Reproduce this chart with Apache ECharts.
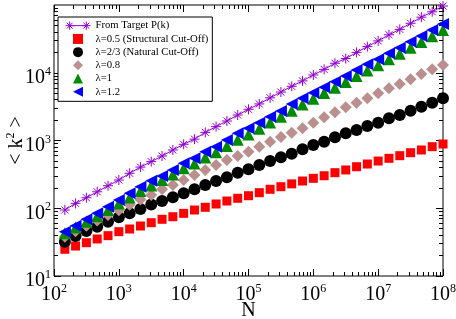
<!DOCTYPE html>
<html><head><meta charset="utf-8">
<script src="https://cdn.jsdelivr.net/npm/echarts@6/dist/echarts.min.js"></script>
<style>html,body{margin:0;padding:0;background:#fff}#c{width:456px;height:319px}</style>
</head><body><div id="c"></div>
<script>
// System size N
const sizeN = [147, 215, 316, 464, 681, 1000, 1468, 2154, 3162, 4642, 6813, 10000,
  14678, 21544, 31623, 46416, 68129, 100000, 146780, 215440, 316230, 464160, 681290, 1000000,
  1467800, 2154400, 3162300, 4641600, 6812900, 10000000, 14678000, 21544000, 31623000, 46416000, 68129000, 100000000];
// <k^2> values
const targetPk = [94.2, 118, 143, 175, 215, 261, 328, 405, 488, 590, 724, 879, 1047, 1318, 1600, 1941, 2377, 2884,
  3467, 4266, 5188, 6310, 7586, 9268, 11220, 13800, 16220, 19950, 24320, 29510, 36310, 43650, 53700, 66070, 79430, 96600];
const lambda05 = [24.8, 27.7, 31.0, 35.2, 39.4, 45.1, 49.4, 54.7, 61.2, 68.7, 75.0, 84.1, 94.2, 103.3, 115.6, 127.9, 140.3, 153.1,
  169.8, 190.5, 208.0, 229.1, 252.4, 276.7, 302.0, 335.0, 367.3, 410.2, 449.8, 497.7, 545.8, 597.0, 660.7, 724.4, 811.0, 887.2];
const lambda23 = [32.1, 38.9, 46.1, 53.5, 63.1, 73.5, 84.1, 97.7, 113.5, 127.9, 144.9, 166.0, 190.5, 220.3, 252.4, 286.4, 335.0, 375.8,
  434.5, 497.7, 564.9, 638.3, 741.3, 859.0, 961.6, 1114, 1276, 1429, 1637, 1832, 2128, 2377, 2754, 3155, 3614, 4198];
const lambda08 = [38.0, 45.7, 55.0, 66.1, 79.4, 93.3, 112.2, 134.9, 157.0, 190.5, 220.3, 261.2, 309.0, 367.3, 434.5, 515.2, 590.2, 683.9,
  811.0, 961.6, 1122, 1303, 1514, 1832, 2198, 2606, 3090, 3614, 4198, 4977, 5888, 6823, 7998, 9594, 11220, 13002];
const lambda10 = [42.7, 51.9, 63.1, 75.9, 94.4, 117.5, 144.5, 179.9, 216.3, 261, 316, 389, 457, 562, 668, 830, 1023, 1230,
  1496, 1841, 2244, 2754, 3388, 4121, 5012, 6026, 7328, 8954, 10839, 12882, 15849, 19055, 23442, 28510, 34674, 42756];
const lambda12 = [45.1, 55.2, 68.7, 84.1, 105.4, 132.4, 166, 208, 254, 299, 367, 460, 546, 684, 811, 1016, 1276, 1514,
  1832, 2244, 2723, 3443, 4198, 5082, 6095, 7379, 8954, 10965, 13335, 15776, 19364, 23442, 28708, 34834, 42756, 52481];

const seriesNames = ['From Target P(k)', 'λ=0.5 (Structural Cut-Off)', 'λ=2/3 (Natural Cut-Off)', 'λ=0.8', 'λ=1', 'λ=1.2'];
const xTicks = [1e2, 1e3, 1e4, 1e5, 1e6, 1e7, 1e8];
const yTicks = [1e1, 1e2, 1e3, 1e4];
const minorMult = [2, 3, 4, 5, 6, 7, 8, 9];

function minorTicks(decades) {
  const out = [];
  decades.forEach(d => minorMult.forEach(m => out.push(m * d)));
  return out;
}
const xMinor = minorTicks([1e2, 1e3, 1e4, 1e5, 1e6, 1e7]);
const yMinor = minorTicks([1e1, 1e2, 1e3, 1e4]);

const FONT = 'Liberation Serif';
const supRich = {
  b: { fontFamily: FONT, fontSize: 20, lineHeight: 22, verticalAlign: 'bottom', color: '#000' },
  s: { fontFamily: FONT, fontSize: 12, lineHeight: 12, verticalAlign: 'top', color: '#000' }
};
const powFmt = v => '{b|10}{s|' + Math.round(Math.log10(v)) + '}';

function axis(dim, gridIndex, position, ticks, len, labels) {
  const a = {
    type: 'log', logBase: 10, gridIndex, position,
    min: dim === 'x' ? 1e2 : 1e1, max: dim === 'x' ? 1e8 : 1e5,
    axisLine: { show: false }, splitLine: { show: false },
    axisTick: { show: true, inside: true, length: len, customValues: ticks, lineStyle: { color: '#000', width: 1 } },
    axisLabel: { show: false },
    minorTick: { show: false },
    nameMoveOverlap: false
  };
  if (labels) {
    a.axisLabel = { show: true, customValues: ticks, formatter: powFmt, rich: supRich,
      fontFamily: FONT, fontSize: 20, color: '#000', margin: 3, lineHeight: 30,
      padding: dim === 'x' ? [4, 0, 0, 0] : [8, 0, 0, 0] };
  }
  return a;
}

const gridRect = { left: 54, right: 13, top: 5, bottom: 43, containLabel: false, outerBoundsMode: 'none' };
const xAxes = [
  axis('x', 0, 'bottom', xTicks, 7, true),
  axis('x', 0, 'top', xTicks, 7, false),
  axis('x', 1, 'bottom', xMinor, 4, false),
  axis('x', 1, 'top', xMinor, 4, false)
];
xAxes[0].name = 'N';
xAxes[0].nameLocation = 'middle';
xAxes[0].nameGap = 25;
xAxes[0].nameTextStyle = { fontFamily: FONT, fontSize: 20, color: '#000' };
const yAxes = [
  axis('y', 0, 'left', yTicks, 7, true),
  axis('y', 0, 'right', yTicks, 7, false),
  axis('y', 1, 'left', yMinor, 4, false),
  axis('y', 1, 'right', yMinor, 4, false)
];
yAxes[0].name = '{b|< k}{s|2}{b| >}';
yAxes[0].nameLocation = 'middle';
yAxes[0].nameGap = 27;
yAxes[0].nameRotate = 90;
yAxes[0].nameTextStyle = { rich: supRich, fontFamily: FONT, fontSize: 20, lineHeight: 30 };

const starPath = 'path://M5,0L5,10M0,5L10,5M1.5,1.5L8.5,8.5M1.5,8.5L8.5,1.5';
const legendStar = 'path://M4,1L4,9M0,5L8,5M1.2,2.2L6.8,7.8M1.2,7.8L6.8,2.2M4,5L20,5M20,1L20,9M16,5L24,5M17.2,2.2L22.8,7.8M17.2,7.8L22.8,2.2';
const icons = {
  square: 'path://M0,0L10,0L10,10L0,10Z',
  diamond: 'path://M5,0L10,5L5,10L0,5Z',
  up: 'path://M5,0L10,10L0,10Z',
  left: 'path://M0,5L10,0L10,10Z'
};

const pairs = arr => sizeN.map((n, i) => [n, arr[i]]);
const solid = c => ({ color: c, opacity: 1 });

const option = {
  animation: false,
  backgroundColor: '#fff',
  grid: [
    Object.assign({ show: true, borderColor: '#000', borderWidth: 1, backgroundColor: 'transparent' }, gridRect),
    Object.assign({ show: false }, gridRect)
  ],
  xAxis: xAxes,
  yAxis: yAxes,
  legend: {
    orient: 'vertical', left: 58, top: 17,
    padding: [2, 4, 3, 5], itemGap: 0, itemWidth: 25, itemHeight: 10,
    symbolKeepAspect: true,
    borderColor: '#000', borderWidth: 1, borderRadius: 0, backgroundColor: '#fff',
    selectedMode: false,
    textStyle: { fontFamily: FONT, fontSize: 10.7, lineHeight: 13.2, color: '#000' },
    data: [
      { name: seriesNames[0], icon: legendStar, itemStyle: { color: 'none', borderColor: '#9400d3', borderWidth: 1 } },
      { name: seriesNames[1], icon: icons.square },
      { name: seriesNames[2], icon: 'circle' },
      { name: seriesNames[3], icon: icons.diamond },
      { name: seriesNames[4], icon: icons.up },
      { name: seriesNames[5], icon: icons.left }
    ]
  },
  series: [
    { type: 'line', name: seriesNames[0], data: pairs(targetPk), symbol: starPath, symbolSize: 10, showSymbol: true,
      itemStyle: { color: 'none', borderColor: '#9400d3', borderWidth: 1 }, lineStyle: { color: '#9400d3', width: 1 }, clip: false },
    { type: 'scatter', name: seriesNames[1], data: pairs(lambda05), symbol: 'rect', symbolSize: 9, itemStyle: solid('#ff0000'), clip: false },
    { type: 'scatter', name: seriesNames[2], data: pairs(lambda23), symbol: 'circle', symbolSize: 12, itemStyle: solid('#000000'), clip: false },
    { type: 'scatter', name: seriesNames[3], data: pairs(lambda08), symbol: 'diamond', symbolSize: 12, itemStyle: solid('#bc8f8f'), clip: false },
    { type: 'scatter', name: seriesNames[4], data: pairs(lambda10), symbol: 'triangle', symbolSize: 12, itemStyle: solid('#008b00'), clip: false },
    { type: 'scatter', name: seriesNames[5], data: pairs(lambda12), symbol: 'triangle', symbolSize: 12, symbolRotate: 90, itemStyle: solid('#0000ff'), clip: false }
  ]
};
const chart = echarts.init(document.getElementById('c'), null, { renderer: 'canvas' });
chart.setOption(option);
</script></body></html>
